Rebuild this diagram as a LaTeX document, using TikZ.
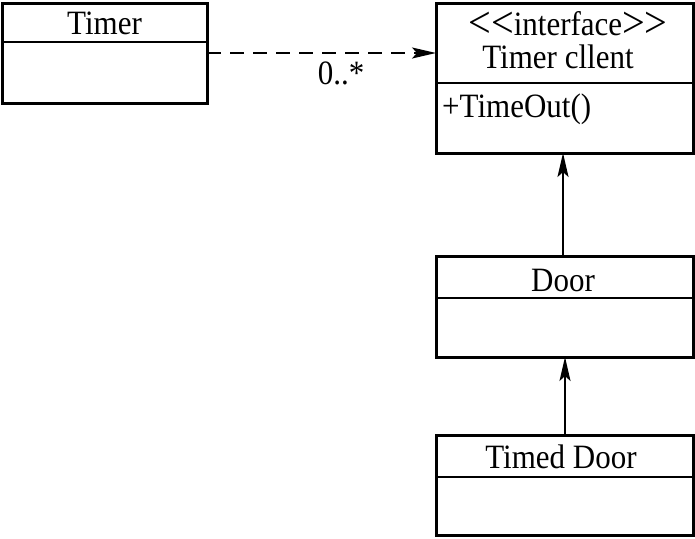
\documentclass[tikz,border=0pt]{standalone}
\usepackage{fontspec}
\setmainfont{Liberation Serif}
\usetikzlibrary{arrows.meta}
\newcommand{\tallt}[1]{\scalebox{1}[1.1]{#1}}
\newcommand{\biglt}{\raisebox{-2.5pt}{\scalebox{1.3}{<}}}
\newcommand{\biggt}{\raisebox{-2.5pt}{\scalebox{1.3}{>}}}
\begin{document}
\begin{tikzpicture}[x=1pt,y=-1pt,
  umlbox/.style={draw, line width=3pt, inner sep=0pt, outer sep=0pt},
  divider/.style={line width=2pt},
  lbl/.style={inner sep=0pt, anchor=base, font=\fontsize{31}{36}\selectfont},
  conn/.style={line width=2pt, -{Stealth[length=24pt,width=11pt,inset=5pt]}},
  dep/.style={conn, dash pattern=on 14pt off 9pt}]
\useasboundingbox (0,0) rectangle (695,538);
% boxes
\node[umlbox, minimum width=205pt, minimum height=100pt] (timer) at (104.5,53) {};
\node[umlbox, minimum width=257pt, minimum height=150pt] (client) at (564.5,78) {};
\node[umlbox, minimum width=257pt, minimum height=101pt] (door) at (564.5,306.5) {};
\node[umlbox, minimum width=257pt, minimum height=100pt] (timed) at (564.5,485) {};
% dividers
\draw[divider] (timer.west |- 0,42) -- (timer.east |- 0,42);
\draw[divider] (client.west |- 0,83) -- (client.east |- 0,83);
\draw[divider] (door.west |- 0,298) -- (door.east |- 0,298);
\draw[divider] (timed.west |- 0,477) -- (timed.east |- 0,477);
% labels
\node[lbl] (timerlbl) at (104.5,34) {\tallt{Timer}};
\node[lbl] (iflbl) at (568,35) {\tallt{\biglt\biglt interface\biggt\biggt}};
\node[lbl] (clientlbl) at (558,68) {\tallt{Timer cllent}};
\node[lbl, anchor=base west] (oplbl) at (442,117) {\tallt{+TimeOut()}};
\node[lbl] (doorlbl) at (563,291) {\tallt{Door}};
\node[lbl] (timedlbl) at (561,468) {\tallt{Timed Door}};
% connectors
\coordinate (depstart) at (timer.east |- 0,53);
\coordinate (depend) at (client.west |- 0,53);
\draw[dep] (depstart) -- (depend);
\node[lbl] (mult) at (341,84) {\tallt{0..*}};
\draw[conn] (door.north -| 563,0) -- (client.south -| 563,0);
\draw[conn] (timed.north -| 565,0) -- (door.south -| 565,0);
\end{tikzpicture}
\end{document}
